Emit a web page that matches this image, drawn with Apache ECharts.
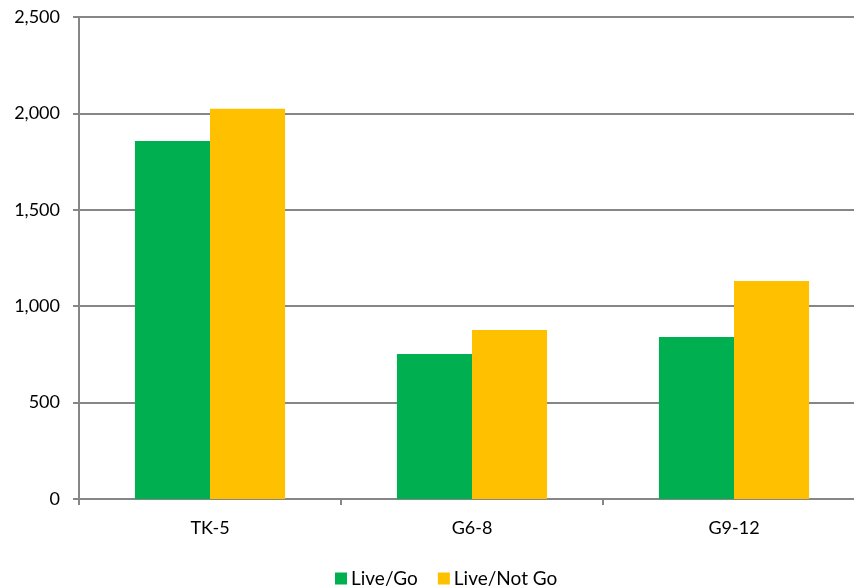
<!DOCTYPE html>
<html><head><meta charset="utf-8">
<script src="https://cdn.jsdelivr.net/npm/echarts@6/dist/echarts.min.js"></script>
<style>html,body{margin:0;padding:0;background:#fff;overflow:hidden;width:854px;height:588px}#c{width:880px;height:588px}</style>
</head><body><div id="c"></div>
<script>
const categories = ['TK-5', 'G6-8', 'G9-12'];
const liveGo = [1857, 752, 840];
const liveNotGo = [2024, 877, 1131];
const seriesNames = ['Live/Go', 'Live/Not Go'];

const chart = echarts.init(document.getElementById('c'), null, {renderer: 'canvas'});
const font = 'Lato, "Open Sans", sans-serif';
chart.setOption({
  animation: false,
  textStyle: {fontFamily: font},
  grid: {left: 79, top: 17, width: 786, bottom: 89, containLabel: false},
  legend: {
    top: 564, left: 330, itemWidth: 12, itemHeight: 12, itemGap: 20,
    icon: 'rect',
    textStyle: {fontSize: 19, color: '#000', fontFamily: font, padding: [0,0,0,-1]},
    data: seriesNames
  },
  xAxis: {
    type: 'category', data: categories,
    axisLine: {lineStyle: {color: '#868686', width: 2}},
    axisTick: {show: true, length: 6, lineStyle: {color: '#868686', width: 2}},
    axisLabel: {fontSize: 18, color: '#000', margin: 20, fontFamily: font}
  },
  yAxis: {
    type: 'value', min: 0, max: 2500, interval: 500,
    axisLine: {show: true, lineStyle: {color: '#868686', width: 2}},
    axisTick: {show: true, length: 6, lineStyle: {color: '#868686', width: 2}},
    splitLine: {lineStyle: {color: '#868686', width: 2}},
    axisLabel: {fontSize: 18, color: '#000', margin: 19, fontFamily: font,
      formatter: v => v.toLocaleString('en-US')}
  },
  series: [
    {name: seriesNames[0], type: 'bar', data: liveGo, itemStyle: {color: '#00B050'},
     barGap: '0%', barCategoryGap: '42.7%'},
    {name: seriesNames[1], type: 'bar', data: liveNotGo, itemStyle: {color: '#FFC000'}}
  ]
});
</script></body></html>
